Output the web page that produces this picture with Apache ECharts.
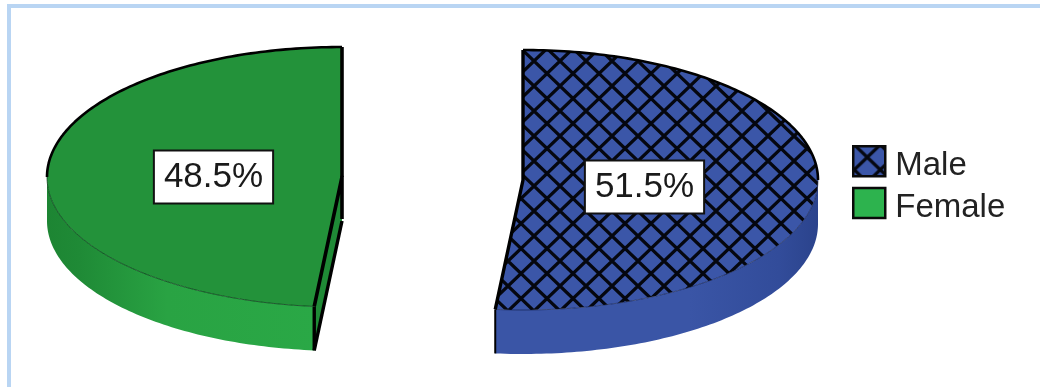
<!DOCTYPE html>
<html>
<head>
<meta charset="utf-8">
<style>html,body{margin:0;padding:0;background:#fff}#chart{width:1040px;height:387px}</style>
<script src="https://cdn.jsdelivr.net/npm/echarts@6/dist/echarts.min.js"></script>
</head>
<body>
<div id="chart"></div>
<script>
// Gender split, in percent
const categories = ['Male', 'Female'];
const values = [51.5, 48.5];

// Exploded tilted pie: each slice keeps its own ellipse centre
const RX = 295, RY = 130, DEPTH = 44;
const layout = {
  Male:   { cx: 523, cy: 180, labelX: 644.5, labelY: 187 },
  Female: { cx: 342, cy: 177, labelX: 213.5, labelY: 177 }
};
const FONT = '"Liberation Sans", Arial, sans-serif';

// Diamond cross-hatch tile used on the male slice and its legend key
function crossHatch(base) {
  const w = 26, h = 25, ox = 14, oy = 11;
  const c = document.createElement('canvas');
  c.width = w; c.height = h;
  const g = c.getContext('2d');
  g.fillStyle = base;
  g.fillRect(0, 0, w, h);
  g.strokeStyle = '#05070f';
  g.lineWidth = 3.2;
  for (let i = -1; i <= 1; i++) {
    for (let j = -1; j <= 1; j++) {
      const x = ox + i * w, y = oy + j * h;
      g.beginPath();
      g.moveTo(x - w / 2, y - h / 2); g.lineTo(x + w / 2, y + h / 2);
      g.moveTo(x + w / 2, y - h / 2); g.lineTo(x - w / 2, y + h / 2);
      g.stroke();
    }
  }
  return { image: c, repeat: 'repeat' };
}
const hatch = crossHatch('#3b56a8');

const styles = {
  Male: {
    top: hatch,
    wall: new echarts.graphic.LinearGradient(0, 0, 1, 0, [
      { offset: 0, color: '#3a55a6' }, { offset: 0.6, color: '#3a55a6' },
      { offset: 0.88, color: '#324c9a' }, { offset: 1, color: '#2b438c' }
    ]),
    rim: 'rgba(10,20,60,0.55)',
    key: hatch
  },
  Female: {
    top: '#23923a',
    wall: new echarts.graphic.LinearGradient(0, 0, 1, 0, [
      { offset: 0, color: '#1d8533' }, { offset: 0.12, color: '#1f8a36' },
      { offset: 0.45, color: '#29a343' }, { offset: 1, color: '#2aa846' }
    ]),
    rim: 'rgba(5,50,20,0.7)',
    key: '#2db34e'
  }
};

// Angles run clockwise from the top of the ellipse, in degrees
function rimPoint(c, deg, drop) {
  const a = deg * Math.PI / 180;
  return [c.cx + RX * Math.sin(a), c.cy - RY * Math.cos(a) + (drop || 0)];
}
function arc(c, from, to, drop) {
  const pts = [];
  const n = Math.max(2, Math.ceil(Math.abs(to - from)));
  for (let i = 0; i <= n; i++) pts.push(rimPoint(c, from + (to - from) * i / n, drop));
  return pts;
}
function sliceRange(name) {
  const total = values.reduce((s, v) => s + v, 0);
  let start = 0;
  for (let i = 0; i < categories.length; i++) {
    const sweep = values[i] / total * 360;
    if (categories[i] === name) return [start, start + sweep];
    start += sweep;
  }
}

function renderSlice(params, api) {
  const name = params.seriesName;
  const value = api.value(0);
  const c = layout[name], st = styles[name];
  const [from, to] = sliceRange(name);
  const kids = [];
  const line = (points, stroke, width) => ({
    type: 'polyline', shape: { points },
    style: { stroke, lineWidth: width, fill: null, lineJoin: 'round' }
  });

  // Outer wall: the part of the rim facing the viewer
  const wallFrom = Math.max(from, 90), wallTo = Math.min(to, 270);
  const wallTop = arc(c, wallFrom, wallTo, 0);
  const wallBottom = arc(c, wallFrom, wallTo, DEPTH).reverse();
  kids.push({ type: 'polygon', shape: { points: wallTop.concat(wallBottom) }, style: { fill: st.wall } });

  // Cut face, visible only when the leading edge turns toward the viewer
  if (from > 180 && from < 270) {
    const e = rimPoint(c, from), b = rimPoint(c, from, DEPTH);
    kids.push({
      type: 'polygon',
      shape: { points: [[c.cx, c.cy], e, b, [c.cx, c.cy + DEPTH]] },
      style: { fill: '#1f8a36' }
    });
    kids.push(line([[c.cx, c.cy + DEPTH], b], '#000', 3.4));
    kids.push(line([e, b], '#000', 3.4));
  }

  // Top face
  const topPts = [[c.cx, c.cy]].concat(arc(c, from, to, 0));
  kids.push({ type: 'polygon', shape: { points: topPts }, style: { fill: st.top } });

  // Outlines: strong along the back rim and the cut edges, faint along the front
  const backFrom = from < 90 ? from : Math.max(from, 270);
  const backTo = from < 90 ? Math.min(to, 90) : to;
  kids.push(line(arc(c, backFrom, backTo, 0), '#000', 2.6));
  kids.push(line(wallTop, st.rim, 1));
  if (from > 180) {
    kids.push(line([rimPoint(c, from), [c.cx, c.cy], [c.cx, c.cy + DEPTH - 2]], '#000', 3.6));
    kids.push(line([rimPoint(c, to), [c.cx, c.cy]], '#000', 3.6));
  } else {
    kids.push(line([rimPoint(c, from), [c.cx, c.cy], rimPoint(c, to)], '#000', 3.4));
    kids.push(line([rimPoint(c, to), rimPoint(c, to, DEPTH)], '#000', 2));
  }

  // Percentage label in a white box
  kids.push({
    type: 'text',
    x: c.labelX,
    y: c.labelY,
    z2: 20,
    style: {
      text: value.toFixed(1) + '%',
      font: '35px ' + FONT,
      fill: '#1a1a1a',
      align: 'center',
      verticalAlign: 'middle',
      backgroundColor: '#fff',
      borderColor: '#111',
      borderWidth: 2,
      padding: [8, 9, 8, 9]
    }
  });
  return { type: 'group', children: kids };
}

const chart = echarts.init(document.getElementById('chart'), null, { renderer: 'canvas' });
chart.setOption({
  animation: false,
  backgroundColor: '#fff',
  graphic: [{
    type: 'rect',
    silent: true,
    shape: { x: 9, y: 6, width: 1200, height: 600 },
    style: { fill: null, stroke: '#b9d5f3', lineWidth: 4 }
  }],
  legend: {
    orient: 'vertical',
    left: 852,
    top: 145,
    padding: 0,
    itemWidth: 32,
    itemHeight: 30,
    itemGap: 4,
    icon: 'rect',
    selectedMode: false,
    formatter: name => '{t|' + name + '}',
    textStyle: {
      rich: { t: { fontFamily: FONT, fontSize: 33, color: '#222', padding: [10, 0, 0, 5] } }
    },
    data: categories.map(name => ({
      name,
      itemStyle: { color: styles[name].key, borderColor: '#0a0a0a', borderWidth: 2.5 }
    }))
  },
  series: categories.map((name, i) => ({
    type: 'custom',
    name,
    coordinateSystem: 'none',
    silent: true,
    itemStyle: { color: styles[name].key },
    renderItem: renderSlice,
    data: [[values[i]]]
  }))
});
</script>
</body>
</html>
